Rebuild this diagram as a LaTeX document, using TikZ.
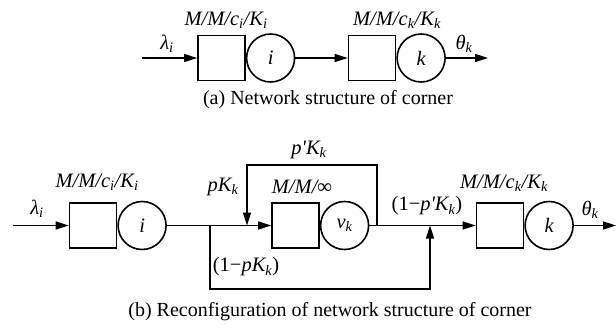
\documentclass[tikz,border=0pt]{standalone}
\usepackage{fontspec}
\setmainfont{Liberation Serif}
\usetikzlibrary{arrows.meta,positioning}

% italic label with a small index
\newcommand{\ix}[1]{\textsubscript{#1}}

\tikzset{
	queue/.style={draw, line width=1.6pt, minimum width=47pt, minimum height=45pt, inner sep=0pt},
	server/.style={draw, circle, line width=1.6pt, minimum size=48pt, inner sep=0pt, font=\fontsize{20.5}{24}\selectfont\itshape},
	wire/.style={line width=1.6pt},
	flow/.style={wire, -{Triangle[length=13pt,width=8pt]}},
	lbl/.style={inner sep=1pt, font=\fontsize{20.5}{24}\selectfont\itshape},
}

\begin{document}
\begin{tikzpicture}[x=1pt, y=-1pt, font=\fontsize{20}{24}\selectfont]
		\useasboundingbox (0, 0) rectangle (616, 329);
		
		%%%%% (a) two stations in series %%%%%
		\node[queue] (aboxi) at (221.5, 58) {};
		\node[server, right=0pt of aboxi] (aseri) {i};
		\node[queue] (aboxk) at (372, 58) {};
		\node[server, right=0pt of aboxk] (aserk) {k};
		
		\coordinate (ain) at (142, 58);
		\coordinate (aout) at (488, 58);
		\draw[flow] (ain) -- (aboxi.west);
		\draw[flow] (aseri.east) -- (aboxk.west);
		\draw[flow] (aserk.east) -- (aout);
		
		\node[lbl] (alam) at (167, 44) {λ\ix{i}};
		\node[lbl] (atheta) at (464, 44) {θ\ix{k}};
		\node[lbl] (aqi) at (226, 20) {M/M/c\ix{i}/K\ix{i}};
		\node[lbl] (aqk) at (397, 20) {M/M/c\ix{k}/K\ix{k}};
		\node (capa) at (328, 100) {(a) Network structure of corner};
		
		%%%%% (b) with the infinite-server stage %%%%%
		\node[queue] (bboxi) at (93, 225.5) {};
		\node[server, right=0pt of bboxi] (bseri) {i};
		\node[queue] (bboxv) at (295.5, 225.5) {};
		\node[server, right=0pt of bboxv] (bserv) {v\ix{k}};
		\node[queue] (bboxk) at (500, 225.5) {};
		\node[server, right=0pt of bboxk] (bserk) {k};
		
		\coordinate (bin) at (13, 225.5);
		\coordinate (bout) at (616, 225.5);
		\coordinate (split) at (210, 225.5);
		\coordinate (tap) at (377, 225.5);
		\coordinate (fbin) at (247, 225.5);
		\coordinate (join) at (430, 225.5);
		
		\draw[flow] (bin) -- (bboxi.west);
		\draw[flow] (bseri.east) -- (bboxv.west);
		\draw[flow] (bserv.east) -- (bboxk.west);
		\draw[flow] (bserk.east) -- (bout);
		
		% loop back over the M/M/inf stage
		\draw[flow] (tap) -- (377, 165) -- (247, 165) -- (fbin);
		% bypass under it
		\draw[flow] (split) -- (210, 289) -- (430, 289) -- (join);
		
		\node[lbl] (blam) at (37, 209) {λ\ix{i}};
		\node[lbl] (btheta) at (590, 210) {θ\ix{k}};
		\node[lbl] (bqi) at (97, 182) {M/M/c\ix{i}/K\ix{i}};
		\node[lbl] (bqv) at (302, 187) {M/M/∞};
		\node[lbl] (bqk) at (504, 183) {M/M/c\ix{k}/K\ix{k}};
		\node[lbl] (bpk) at (223, 187) {pK\ix{k}};
		\node[lbl] (bppk) at (309, 150) {p\textquotesingle K\ix{k}};
		\node[lbl] (bnpk) at (246, 267) {\upshape(1−\itshape pK\ix{k}\upshape)};
		\node[lbl] (bnppk) at (427, 206) {\upshape(1−\itshape p\textquotesingle K\ix{k}\upshape)};
		\node (capb) at (330, 312) {(b) Reconfiguration of network structure of corner};
		
	\end{tikzpicture}
\end{document}
